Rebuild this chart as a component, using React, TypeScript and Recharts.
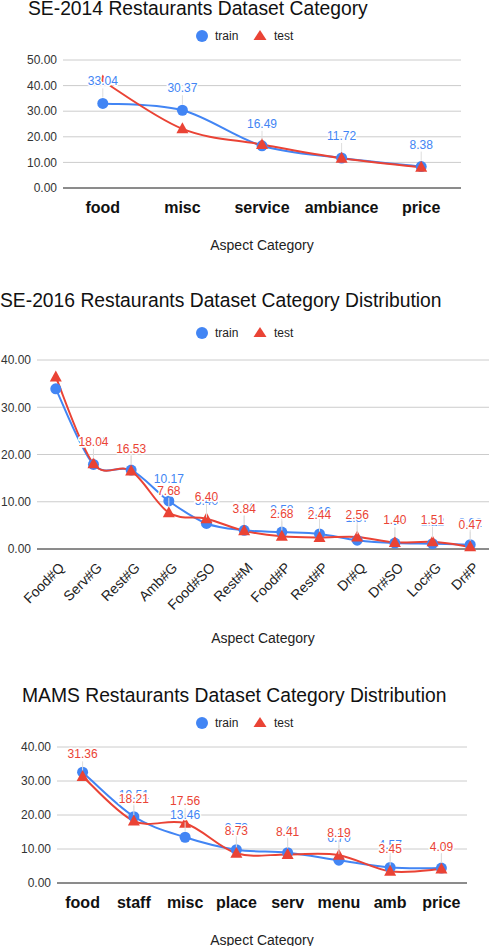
import React from "react";
import { LineChart, Line, XAxis, YAxis, CartesianGrid, LabelList } from "recharts";

// SE-2014 restaurants
const se14Categories = ["food", "misc", "service", "ambiance", "price"];
const se14Train = [33.04, 30.37, 16.49, 11.72, 8.38];
const se14Test = [41.8, 23.1, 17.0, 11.6, 8.1];
const se14Ticks = [0, 10, 20, 30, 40, 50];

// SE-2016 restaurants
const se16Categories = ["Food#Q", "Serv#G", "Rest#G", "Amb#G", "Food#SO", "Rest#M", "Food#P", "Rest#P", "Dr#Q", "Dr#SO", "Loc#G", "Dr#P"];
const se16Train = [33.9, 17.9, 16.7, 10.17, 5.4, 3.96, 3.58, 3.19, 1.87, 1.25, 1.12, 0.92];
const se16Test = [36.4, 18.04, 16.53, 7.68, 6.4, 3.84, 2.68, 2.44, 2.56, 1.4, 1.51, 0.47];
const se16Ticks = [0, 10, 20, 30, 40];

// MAMS restaurants
const mamsCategories = ["food", "staff", "misc", "place", "serv", "menu", "amb", "price"];
const mamsTrain = [32.6, 19.51, 13.46, 9.79, 8.91, 6.7, 4.57, 4.39];
const mamsTest = [31.36, 18.21, 17.56, 8.73, 8.41, 8.19, 3.45, 4.09];
const mamsTicks = [0, 10, 20, 30, 40];

const BLUE = "#4285f4";
const RED = "#ea4335";

// smooth line through the points (catmull-rom style, like the sheets charts)
const smoothCurve = (context: any) => {
  let pts: [number, number][] = [];
  return {
    areaStart() {},
    areaEnd() {},
    lineStart() {
      pts = [];
    },
    point(x: number, y: number) {
      pts.push([+x, +y]);
    },
    lineEnd() {
      if (!pts.length) return;
      const k = 1 / 6;
      context.moveTo(pts[0][0], pts[0][1]);
      for (let i = 0; i < pts.length - 1; i++) {
        const p0 = pts[Math.max(i - 1, 0)];
        const p1 = pts[i];
        const p2 = pts[i + 1];
        const p3 = pts[Math.min(i + 2, pts.length - 1)];
        context.bezierCurveTo(
          p1[0] + (p2[0] - p0[0]) * k,
          p1[1] + (p2[1] - p0[1]) * k,
          p2[0] - (p3[0] - p1[0]) * k,
          p2[1] - (p3[1] - p1[1]) * k,
          p2[0],
          p2[1]
        );
      }
    },
  };
};

const TriangleDot = (props: any) => {
  const { cx, cy, index } = props;
  if (cx == null || cy == null) return <g key={`tri-${index}`} />;
  return (
    <polygon
      key={`tri-${index}`}
      points={`${cx},${cy - 6.5} ${cx + 6},${cy + 4.5} ${cx - 6},${cy + 4.5}`}
      fill={RED}
    />
  );
};

const makeLabel = (color: string, hidden: number[]) => (props: any) => {
  const { x, y, value, index } = props;
  if (hidden.includes(index) || x == null || y == null) return null;
  return (
    <g>
      <line x1={x} x2={x} y1={y - 15} y2={y - 6} stroke="#ddd" strokeWidth={1} />
      <text
        x={x}
        y={y - 18}
        textAnchor="middle"
        fontSize={12}
        fill={color}
        stroke="#fff"
        strokeWidth={3}
        strokeLinejoin="round"
        paintOrder="stroke"
      >
        {Number(value).toFixed(2)}
      </text>
    </g>
  );
};

const RotatedTick = (props: any) => {
  const { x, y, payload } = props;
  const ax = x + 6;
  const ay = y + 16;
  return (
    <text
      x={ax}
      y={ay}
      dy="0.35em"
      textAnchor="end"
      fontSize={14}
      fill="#222"
      transform={`rotate(-45 ${ax} ${ay})`}
    >
      {payload.value}
    </text>
  );
};

function LegendRow({ top }: { top: number }) {
  return (
    <svg width={490} height={20} style={{ position: "absolute", left: 0, top: top - 10 }}>
      <circle cx={202} cy={10} r={6} fill={BLUE} />
      <text x={215} y={14} fontSize={12} fill="#222">
        train
      </text>
      <polygon points="260,4 266.5,14 253.5,14" fill={RED} />
      <text x={274} y={14} fontSize={12} fill="#222">
        test
      </text>
    </svg>
  );
}

type ChartProps = {
  top: number;
  height: number;
  categories: string[];
  train: number[];
  test: number[];
  ticks: number[];
  margin: { top: number; right: number; left: number; bottom: number };
  yWidth: number;
  xHeight: number;
  pad: number;
  rotated?: boolean;
  titleOffset: number;
  trainHidden: number[];
  showTestLabels: boolean;
  testHidden: number[];
};

function DistChart(p: ChartProps) {
  const data = p.categories.map((name, i) => ({ name, train: p.train[i], test: p.test[i] }));
  const max = p.ticks[p.ticks.length - 1];
  return (
    <div style={{ position: "absolute", left: 0, top: p.top }}>
      <LineChart width={490} height={p.height} data={data} margin={p.margin}>
        <CartesianGrid vertical={false} stroke="#ccc" />
        <XAxis
          dataKey="name"
          interval={0}
          padding={{ left: p.pad, right: p.pad }}
          tickLine={false}
          tickSize={0}
          tickMargin={p.rotated ? 0 : 13.6}
          height={p.xHeight}
          axisLine={{ stroke: "#333" }}
          tick={p.rotated ? <RotatedTick /> : { fontSize: 16, fontWeight: 700, fill: "#111" }}
          label={{
            value: "Aspect Category",
            position: "insideBottom",
            offset: p.titleOffset,
            fontSize: 14,
            fill: "#222",
          }}
        />
        <YAxis
          domain={[0, max]}
          ticks={p.ticks}
          width={p.yWidth}
          axisLine={false}
          tickLine={false}
          tickSize={0}
          tickMargin={6}
          tick={{ fontSize: 12, fill: "#333" }}
          tickFormatter={(v) => Number(v).toFixed(2)}
        />
        <Line
          dataKey="train"
          type={smoothCurve as any}
          stroke={BLUE}
          strokeWidth={2}
          dot={{ r: 5.5, fill: BLUE, stroke: BLUE, strokeWidth: 0 }}
          activeDot={false}
          isAnimationActive={false}
        >
          <LabelList dataKey="train" content={makeLabel(BLUE, p.trainHidden)} />
        </Line>
        <Line
          dataKey="test"
          type={smoothCurve as any}
          stroke={RED}
          strokeWidth={2}
          dot={TriangleDot}
          activeDot={false}
          isAnimationActive={false}
        >
          {p.showTestLabels && <LabelList dataKey="test" content={makeLabel(RED, p.testHidden)} />}
        </Line>
      </LineChart>
    </div>
  );
}

const titleStyle: React.CSSProperties = {
  position: "absolute",
  fontSize: 19.3,
  lineHeight: 1,
  color: "#111",
  whiteSpace: "nowrap",
};

export default function App() {
  return (
    <div
      style={{
        position: "absolute",
        left: 0,
        top: 0,
        width: 490,
        height: 946,
        background: "#fff",
        overflow: "hidden",
        fontFamily: "'Liberation Sans', Arial, sans-serif",
      }}
    >
      <div style={{ ...titleStyle, left: 28, top: -1 }}>SE-2014 Restaurants Dataset Category</div>
      <LegendRow top={36} />
      <DistChart
        top={0}
        height={260}
        categories={se14Categories}
        train={se14Train}
        test={se14Test}
        ticks={se14Ticks}
        margin={{ top: 60, right: 29, left: 0, bottom: 0 }}
        yWidth={63}
        xHeight={72}
        pad={39.8}
        titleOffset={10}
        trainHidden={[]}
        showTestLabels={false}
        testHidden={[]}
      />

      <div style={{ ...titleStyle, left: 0, top: 291 }}>SE-2016 Restaurants Dataset Category Distribution</div>
      <LegendRow top={333} />
      <DistChart
        top={280}
        height={370}
        categories={se16Categories}
        train={se16Train}
        test={se16Test}
        ticks={se16Ticks}
        margin={{ top: 80, right: 1, left: 0, bottom: 0 }}
        yWidth={37}
        xHeight={101}
        pad={18.8}
        rotated
        titleOffset={7}
        trainHidden={[0]}
        showTestLabels
        testHidden={[0]}
      />

      <div style={{ ...titleStyle, left: 22, top: 685.5 }}>MAMS Restaurants Dataset Category Distribution</div>
      <LegendRow top={723} />
      <DistChart
        top={670}
        height={276}
        categories={mamsCategories}
        train={mamsTrain}
        test={mamsTest}
        ticks={mamsTicks}
        margin={{ top: 77, right: 23, left: 0, bottom: 0 }}
        yWidth={57}
        xHeight={63}
        pad={25.6}
        titleOffset={1}
        trainHidden={[0]}
        showTestLabels
        testHidden={[]}
      />
    </div>
  );
}
